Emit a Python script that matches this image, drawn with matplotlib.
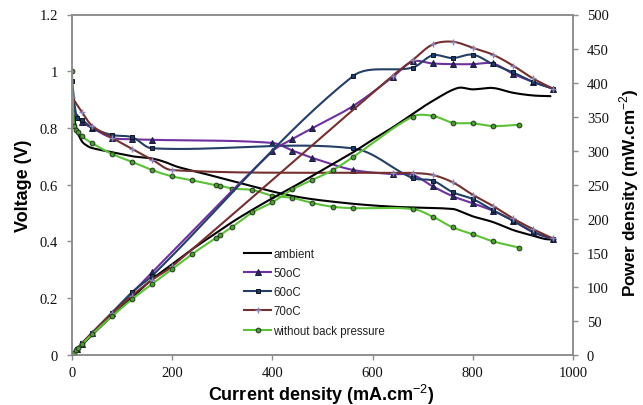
import matplotlib
matplotlib.use('Agg')
import numpy as np
import matplotlib.pyplot as plt
from matplotlib.lines import Line2D

plt.rcParams['mathtext.fontset'] = 'custom'
plt.rcParams['mathtext.rm'] = 'Liberation Sans'
plt.rcParams['mathtext.bf'] = 'Liberation Sans:bold'

# ---------------- data ----------------
# ambient (line only)
amb_v_x = [0, 5, 10, 20, 30, 40, 80, 120, 160, 185, 210, 250, 330, 440, 540, 640, 760, 780, 800, 840, 880, 920, 945, 965]
amb_v = [0.88, 0.83, 0.79, 0.752, 0.737, 0.729, 0.714, 0.700, 0.692, 0.680, 0.663, 0.645, 0.608, 0.560, 0.536, 0.522, 0.514, 0.502, 0.488, 0.468, 0.440, 0.420, 0.408, 0.406]
amb_p_x = [0, 40, 80, 120, 160, 200, 240, 280, 320, 360, 400, 440, 480, 520, 560, 600, 640, 680, 720, 770, 800, 840, 880, 920, 955]
amb_p = [0, 29, 57, 84, 111, 133, 155, 175, 195, 213, 230, 246, 263, 280, 297, 316, 334, 354, 373, 392, 390, 392, 385, 381, 380]

# 50oC
c50_x = [0, 10, 20, 40, 80, 120, 160, 400, 440, 480, 560, 640, 680, 720, 760, 800, 840, 880, 920, 960]
c50_v = [0.87, 0.84, 0.82, 0.80, 0.765, 0.76, 0.758, 0.747, 0.72, 0.694, 0.652, 0.637, 0.634, 0.594, 0.559, 0.534, 0.508, 0.473, 0.432, 0.408]
c50_p = [0, 8.4, 16.4, 32, 61, 91, 121, 299, 317, 333, 365, 408, 431, 428, 427, 427, 428, 413, 401, 391]

# 60oC
c60_x = [0, 10, 20, 40, 80, 120, 160, 560, 680, 720, 760, 800, 840, 880, 920, 960]
c60_v = [0.966, 0.834, 0.828, 0.80, 0.775, 0.767, 0.728, 0.728, 0.623, 0.614, 0.573, 0.549, 0.510, 0.473, 0.434, 0.408]
c60_p = [0, 8.3, 16.6, 32, 62, 92, 116, 409, 422, 440, 436, 441, 427, 415, 401, 391]

# 70oC
c70_x = [0, 20, 40, 80, 120, 160, 200, 640, 680, 720, 760, 800, 840, 880, 920, 960]
c70_v = [0.908, 0.855, 0.808, 0.765, 0.726, 0.688, 0.651, 0.641, 0.641, 0.634, 0.608, 0.564, 0.525, 0.481, 0.443, 0.41]
c70_p = [0, 17, 32, 61, 87, 110, 130, 410, 433, 456, 460, 451, 441, 425, 406, 391]

# without back pressure
nbp_x = [0, 4, 8, 12, 20, 40, 80, 120, 160, 200, 240, 288, 296, 320, 360, 400, 440, 480, 520, 560, 680, 720, 760, 800, 840, 892]
nbp_v = [1.0, 0.805, 0.793, 0.785, 0.770, 0.746, 0.708, 0.680, 0.651, 0.629, 0.615, 0.597, 0.596, 0.586, 0.581, 0.561, 0.553, 0.535, 0.522, 0.517, 0.514, 0.487, 0.449, 0.425, 0.400, 0.378]
nbp_p = [0, 3.2, 6.3, 9.4, 15.4, 29.8, 56.6, 81.6, 104, 126, 148, 172, 176, 188, 209, 224, 243, 257, 271, 290, 350, 351, 341, 340, 336, 338]

labels = ['ambient', '50oC', '60oC', '70oC', 'without back pressure']

x_ticks = [0, 200, 400, 600, 800, 1000]
v_ticks = [0, 0.2, 0.4, 0.6, 0.8, 1.0, 1.2]
v_tick_labels = ['0', '0.2', '0.4', '0.6', '0.8', '1', '1.2']
p_ticks = list(range(0, 501, 50))

# ---------------- helpers ----------------
W, H = 643, 406
AX_L, AX_R, AX_B, AX_T = 72, 573, 355.7, 15.5
axw = AX_R - AX_L
axh = AX_B - AX_T


def smooth(x, y, ymax, n=18):
    """Excel-like smoothed curve (Catmull-Rom Bezier) in display-proportional space."""
    sx = axw / 1000.0
    sy = axh / ymax
    P = np.column_stack([np.asarray(x, float) * sx, np.asarray(y, float) * sy])
    m = len(P)
    pts = [P[0]]
    for i in range(m - 1):
        p0 = P[i - 1] if i > 0 else P[i]
        p1 = P[i]
        p2 = P[i + 1]
        p3 = P[i + 2] if i + 2 < m else P[i + 1]
        d01 = np.linalg.norm(p1 - p0)
        d12 = np.linalg.norm(p2 - p1)
        d23 = np.linalg.norm(p3 - p2)
        t1 = (p2 - p0) / (d01 + d12) if d01 + d12 > 0 else np.zeros(2)
        t2 = (p3 - p1) / (d12 + d23) if d12 + d23 > 0 else np.zeros(2)
        c1 = p1 + t1 * d12 / 3.0
        c2 = p2 - t2 * d12 / 3.0
        for t in np.linspace(0, 1, n)[1:]:
            b = ((1 - t) ** 3) * p1 + 3 * ((1 - t) ** 2) * t * c1 + 3 * (1 - t) * t * t * c2 + (t ** 3) * p2
            pts.append(b)
    pts = np.array(pts)
    return pts[:, 0] / sx, pts[:, 1] / sy


fig = plt.figure(figsize=(W / 100, H / 100), dpi=100)
ax = fig.add_axes([AX_L / W, 1 - AX_B / H, axw / W, axh / H])
ax2 = ax.twinx()

styles = [
    dict(color='#000000', marker=None),
    dict(color='#7030A0', marker='^', mfc='#2B2860', mec='#1A1A40', ms=3.8),
    dict(color='#243F66', marker='s', mfc='#1F3864', mec='#0D1526', ms=3.3),
    dict(color='#74302E', marker='+', mfc='none', mec='#8C86B8', ms=5, mew=1.0),
    dict(color='#5BC236', marker='o', mfc='#4E9C34', mec='#1F3A18', ms=3.4),
]

series = [
    (amb_v_x, amb_v, amb_p_x, amb_p),
    (c50_x, c50_v, c50_x, c50_p),
    (c60_x, c60_v, c60_x, c60_p),
    (c70_x, c70_v, c70_x, c70_p),
    (nbp_x, nbp_v, nbp_x, nbp_p),
]

lw = 1.5
for (vx, vy, px_, py_), st in zip(series, styles):
    xs, ys = smooth(vx, vy, 1.2)
    ax.plot(xs, ys, color=st['color'], lw=lw, solid_capstyle='round')
    xs, ys = smooth(px_, py_, 500)
    ax2.plot(xs, ys, color=st['color'], lw=lw, solid_capstyle='round')
    if st['marker']:
        kw = dict(ls='none', marker=st['marker'], ms=st['ms'], mfc=st['mfc'], mec=st['mec'],
                  mew=st.get('mew', 0.7))
        ax.plot(vx, vy, **kw)
        ax2.plot(px_, py_, **kw)

ax.set_xlim(0, 1000)
ax.set_ylim(0, 1.2)
ax2.set_ylim(0, 500)
ax.set_xticks(x_ticks)
ax.set_xticklabels([str(t) for t in x_ticks])
ax.set_yticks(v_ticks)
ax.set_yticklabels(v_tick_labels)
ax2.set_yticks(p_ticks)
ax2.set_yticklabels([str(t) for t in p_ticks])

spine_c = '#8C8C8C'
for a in (ax, ax2):
    for s in a.spines.values():
        s.set_color(spine_c)
        s.set_linewidth(1.1)
    a.tick_params(direction='out', length=3.5, width=1.0, color=spine_c,
                  labelsize=10.5, labelcolor='#111111')
ax.tick_params(axis='y', pad=6.5)
ax.tick_params(axis='x', pad=4.5)
ax2.tick_params(axis='y', pad=6.5)
for lab in ax.get_xticklabels() + ax.get_yticklabels() + ax2.get_yticklabels():
    lab.set_fontfamily('Liberation Serif')

lbl_kw = dict(fontfamily='Liberation Sans', fontweight='bold', fontsize=13)
ax.set_xlabel(r'Current density (mA.cm$^{\mathrm{-2}}$)', **lbl_kw)
ax.set_ylabel('Voltage (V)', **lbl_kw)
ax2.set_ylabel(r'Power density (mW.cm$^{\mathrm{-2}}$)', rotation=90,
               fontfamily='Liberation Sans', fontweight='bold', fontsize=12.3)
ax.xaxis.set_label_coords(0.497, -0.116)
ax.xaxis.label.set_va('center')
ax.yaxis.set_label_coords(-0.096, 0.5)
ax.yaxis.label.set_va('center')
ax2.yaxis.set_label_coords(1.112, 0.48)
ax2.yaxis.label.set_va('center')

handles = []
for st in styles:
    if st['marker']:
        h = Line2D([], [], color=st['color'], lw=lw, marker=st['marker'], ms=st['ms'],
                   mfc=st['mfc'], mec=st['mec'], mew=st.get('mew', 0.7))
    else:
        h = Line2D([], [], color=st['color'], lw=lw)
    handles.append(h)
leg = fig.legend(handles, labels, loc='upper left', bbox_to_anchor=(244 / W, 1 - 249 / H),
                 frameon=False, prop=dict(family='Liberation Sans', size=8.3),
                 handlelength=2.35, handletextpad=0.2, labelspacing=0.62,
                 borderpad=0, borderaxespad=0, numpoints=1)
for t in leg.get_texts():
    t.set_color('#222222')

fig.savefig('out.png', dpi=100)
